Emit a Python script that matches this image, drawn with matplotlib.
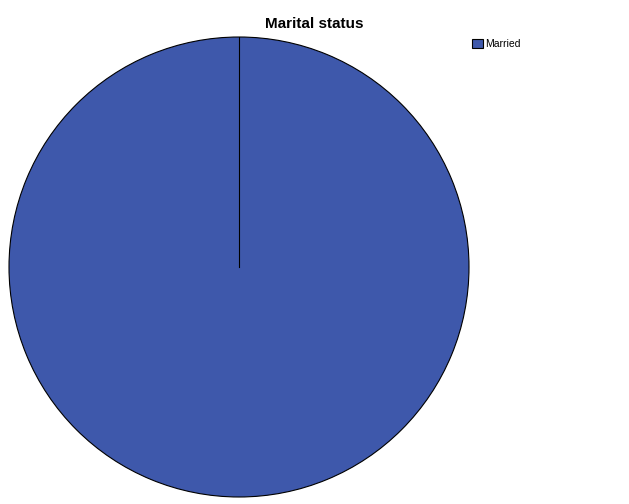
import matplotlib
matplotlib.use("Agg")
import matplotlib.pyplot as plt
import numpy as np

labels = ["Married"]
values = [100.0]
colors = ["#3e58ab"]

W, H = 629, 504
fig = plt.figure(figsize=(W / 100, H / 100), dpi=100)

# pie centred at (239, 267) px, radius 230 px
cx, cy, r = 239, 267, 230
ax = fig.add_axes([(cx - r) / W, (H - cy - r) / H, 2 * r / W, 2 * r / H])
wedges, _ = ax.pie(values, colors=colors, startangle=90, counterclock=False,
                   radius=1.0, wedgeprops=dict(edgecolor="black", linewidth=0.8))
ax.set_xlim(-1, 1)
ax.set_ylim(-1, 1)
ax.set_aspect("equal")
ax.axis("off")

# slice boundaries (a full slice still shows its start edge)
angles = 90 - 360 * np.cumsum([0] + values[:-1]) / sum(values)
for a in angles:
    t = np.deg2rad(a)
    ax.plot([0, np.cos(t)], [0, np.sin(t)], color="black", lw=0.8)

fig.text(314 / W, 1 - 24 / H, "Marital status", ha="center", va="center",
         fontsize=11, fontweight="bold", family="Liberation Sans")

leg = fig.legend(wedges, labels, loc="upper left",
                 bbox_to_anchor=(470 / W, 1 - 37 / H), frameon=False,
                 prop=dict(family="Liberation Sans", size=7.5),
                 handlelength=1.0, handleheight=1.0, handletextpad=0.25,
                 borderaxespad=0, borderpad=0.2)

fig.savefig("out.png", dpi=100)
